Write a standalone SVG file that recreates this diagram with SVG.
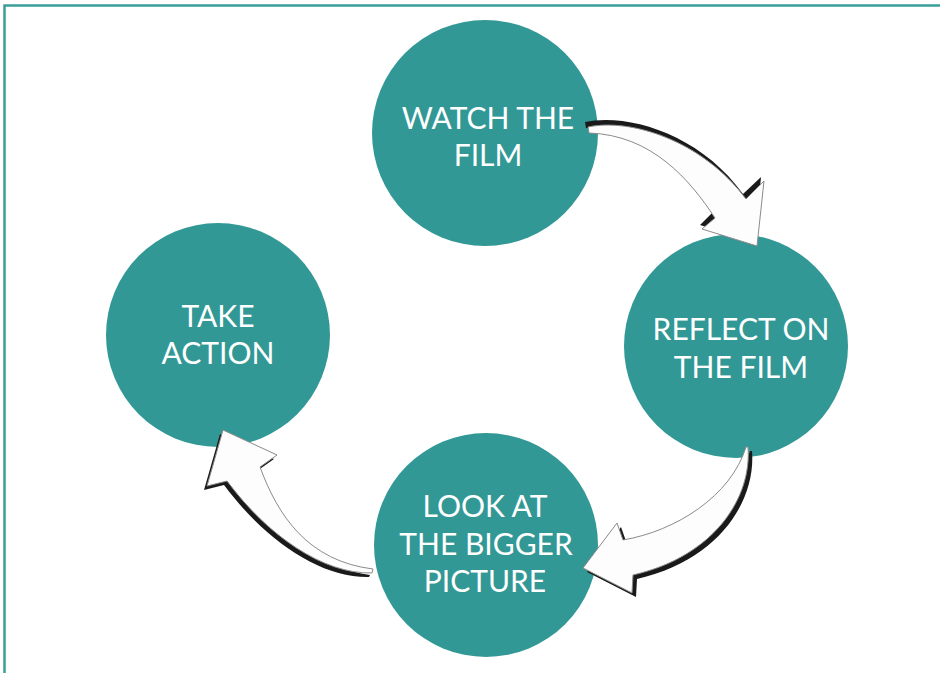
<svg xmlns="http://www.w3.org/2000/svg" width="940" height="673" viewBox="0 0 940 673">
<style>
.node{fill:#329896}
.lbl{fill:#ffffff;font-family:Lato,"Open Sans",sans-serif;font-size:30px;text-anchor:middle}
.arr{fill:#fdfdfd;stroke:#8a8a8a;stroke-width:1}
.shd{fill:#1a1a1a}
</style>
<rect x="4.5" y="5.5" width="945" height="680" fill="#ffffff" stroke="#3a9e99" stroke-width="2.5"/>
<g id="watch">
<circle class="node" cx="485" cy="133" r="113"/>
<text class="lbl" x="488" y="129">WATCH THE</text>
<text class="lbl" x="488" y="166">FILM</text>
</g>
<g id="reflect">
<circle class="node" cx="736" cy="346" r="112"/>
<text class="lbl" x="741" y="340">REFLECT ON</text>
<text class="lbl" x="741" y="378">THE FILM</text>
</g>
<g id="look">
<circle class="node" cx="486" cy="545" r="112"/>
<text class="lbl" x="485" y="517">LOOK AT</text>
<text class="lbl" x="486" y="555">THE BIGGER</text>
<text class="lbl" x="485" y="592">PICTURE</text>
</g>
<g id="take">
<circle class="node" cx="218" cy="335" r="112"/>
<text class="lbl" x="218" y="327">TAKE</text>
<text class="lbl" x="218" y="364">ACTION</text>
</g>
<g id="connectors">
<g id="arrow1">
<path class="shd" d="M585,122 C628,113 700,134 743,194 L761,177 L755,242 L700,225 L712,213 C688,176 650,131 586,128 Z"/>
<path class="arr" d="M588,127 C630,118 702,140 746,199 L764,181 L757,246 L702,229 L715,218 C690,180 652,135 589,133 Z"/>
</g>
<g id="arrow2">
<path class="shd" d="M752,451 C756,500 720,560 637,579 L636,597 L587,572 L621,527 L627,544 C680,535 735,500 750,451 Z"/>
<path class="arr" d="M748,447 C752,496 716,556 633,575 L632,593 L583,568 L617,523 L623,540 C676,531 731,496 746,447 Z"/>
</g>
<g id="arrow3">
<path class="shd" d="M369,577 C320,578 265,540 224,485 L204,490 L220,434 L274,459 L257,471 C275,520 305,565 370,575 Z"/>
<path class="arr" d="M372,573 C323,574 268,536 227,481 L207,486 L223,430 L277,455 L260,467 C278,516 308,561 373,569 Z"/>
</g>
</g>
</svg>
